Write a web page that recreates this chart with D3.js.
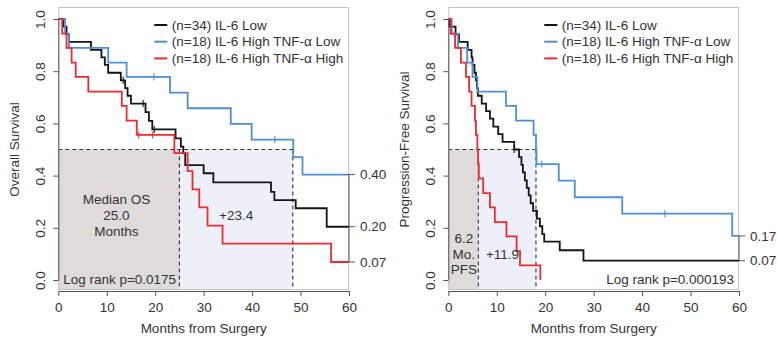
<!DOCTYPE html>
<html>
<head>
<meta charset="utf-8">
<script src="https://cdn.jsdelivr.net/npm/d3@7.9.0/dist/d3.min.js"></script>
<style>
  body { margin: 0; background: #fff; }
  svg { display: block; font-family: "Liberation Sans", Arial, sans-serif; }
</style>
</head>
<body>
<svg id="chart" width="778" height="341"></svg>
<script>
// ---- data ----
const monthTicks = [0, 10, 20, 30, 40, 50, 60];
const survTicks = [0, 0.2, 0.4, 0.6, 0.8, 1.0];
const groupNames = ['(n=34) IL-6 Low', '(n=18) IL-6 High TNF-\u03b1 Low', '(n=18) IL-6 High TNF-\u03b1 High'];
const groupColors = ['#141414', '#4b8fd6', '#ee2a2e'];

// overall survival, [month, survival] at each drop
const osLow = [[0,1],[1.0,0.971],[1.7,0.941],[2.2,0.912],[6.75,0.882],[8.9,0.853],[9.6,0.824],[10.3,0.794],
  [12.9,0.765],[13.8,0.735],[14.3,0.706],[15.0,0.676],[18.0,0.643],[18.7,0.610],[19.4,0.577],[24.2,0.543],
  [25.3,0.511],[25.8,0.485],[26.2,0.440],[30.0,0.409],[32.0,0.374],[43.9,0.338],[44.6,0.306],[49.0,0.275],[55.4,0.204]];
const osHighTnfLow = [[0,1],[1.4,0.944],[2.2,0.889],[10.3,0.833],[14.1,0.778],[23.05,0.718],[26.7,0.658],
  [35.6,0.598],[39.9,0.538],[48.5,0.471],[50.4,0.404]];
const osHighTnfHigh = [[0,1],[0.8,0.944],[1.7,0.889],[2.75,0.833],[3.6,0.778],[6.2,0.722],[13.1,0.667],[14.1,0.611],
  [16.2,0.556],[23.95,0.486],[26.7,0.417],[27.7,0.347],[29.1,0.278],[30.8,0.208],[33.9,0.139],[56.3,0.069]];
const osCensor = [[13.4, 17.5, 19.8], [19.75, 44.7], [16.6, 19.5]];
const osEnd = [60, 60, 60];

// progression-free survival
const pfsLow = [[0,1],[0.3,0.971],[1.5,0.941],[2.2,0.912],[4.0,0.882],[4.8,0.853],[5.0,0.824],[5.4,0.794],
  [5.7,0.765],[5.9,0.735],[6.1,0.706],[6.9,0.676],[7.8,0.647],[8.6,0.618],[9.3,0.588],[10.3,0.559],[11.2,0.529],
  [13.6,0.500],[14.6,0.471],[15.1,0.441],[15.4,0.412],[15.8,0.382],[16.2,0.353],[16.6,0.324],[17.0,0.294],
  [17.5,0.265],[18.3,0.235],[18.9,0.206],[19.4,0.176],[19.8,0.147],[23.0,0.114],[27.9,0.074]];
const pfsHighTnfLow = [[0,1],[0.7,0.944],[2.0,0.889],[3.9,0.833],[5.0,0.778],[6.0,0.722],[11.9,0.667],[14.0,0.611],
  [17.6,0.556],[18.1,0.500],[18.2,0.444],[22.8,0.381],[26.1,0.317],[35.9,0.254],[58.6,0.169]];
const pfsHighTnfHigh = [[0,1],[0.5,0.944],[1.4,0.889],[2.6,0.833],[3.65,0.778],[4.3,0.722],[4.8,0.667],[5.5,0.611],
  [5.7,0.556],[6.0,0.500],[6.15,0.444],[6.3,0.389],[7.2,0.333],[8.6,0.278],[9.6,0.222],[12.0,0.167],[14.1,0.111],
  [14.8,0.056],[19.0,0]];
const pfsCensor = [[13.6], [19.3, 44.7], []];
const pfsEnd = [60, 60, 19.0];

const osMedian = 25.0, osGain = 23.4;
const pfsMedian = 6.2, pfsGain = 11.9;
const osEndLabels = ['0.40', '0.20', '0.07'];
const pfsEndLabels = ['0.17', '0.07'];

// ---- drawing ----
const svg = d3.select('#chart');
const ink = '#333';
const axisInk = '#555';

function stepAt(curve, t) {
  let s = curve[0][1];
  for (const p of curve) if (p[0] <= t) s = p[1];
  return s;
}

function panel(opt) {
  const g = svg.append('g');
  const x = d3.scaleLinear().domain([0, 60]).range([opt.left, opt.left + 290.7]);
  const y = d3.scaleLinear().domain([0, 1]).range([280, 19]);
  const top = 7, bottom = 290;

  // shaded median areas
  g.append('rect')
    .attr('x', x(0)).attr('y', y(0.5))
    .attr('width', x(opt.median) - x(0)).attr('height', bottom - y(0.5))
    .attr('fill', '#dfdbda');
  g.append('rect')
    .attr('x', x(opt.median)).attr('y', y(0.5))
    .attr('width', x(opt.median + opt.gain) - x(opt.median)).attr('height', bottom - y(0.5))
    .attr('fill', '#edf0f9');

  // dashed guides
  const dash = g.append('g').attr('stroke', ink).attr('stroke-width', 1.1).attr('stroke-dasharray', '4,3').attr('fill', 'none');
  dash.append('line').attr('x1', x(0)).attr('x2', x(opt.median + opt.gain)).attr('y1', y(0.5)).attr('y2', y(0.5));
  [opt.median, opt.median + opt.gain].forEach(m => {
    dash.append('line').attr('x1', x(m)).attr('x2', x(m)).attr('y1', y(0.5)).attr('y2', bottom);
  });

  // box
  g.append('rect')
    .attr('x', x(0) + 0.5).attr('y', top + 0.5)
    .attr('width', x(60) - x(0) - 1).attr('height', bottom - top - 1)
    .attr('fill', 'none').attr('stroke', '#c4c4c4').attr('stroke-width', 1);

  // axes
  const xa = g.append('g').attr('transform', `translate(0,${bottom + 1})`)
    .call(d3.axisBottom(x).tickValues(monthTicks).tickSize(5).tickPadding(6).tickSizeOuter(0));
  const ya = g.append('g').attr('transform', `translate(${x(0)},0)`)
    .call(d3.axisLeft(y).tickValues(survTicks).tickSize(5).tickSizeOuter(0).tickFormat(d3.format('.1f')));
  [xa, ya].forEach(a => {
    a.select('.domain').attr('stroke', axisInk);
    a.selectAll('line').attr('stroke', axisInk);
    a.selectAll('text').attr('fill', ink).style('font-size', '13.5px').style('font-family', 'Liberation Sans, Arial, sans-serif');
  });
  ya.selectAll('text')
    .attr('x', null).attr('dy', '0.35em')
    .attr('text-anchor', 'middle')
    .attr('transform', 'translate(-18,0) rotate(-90)');

  g.append('text').attr('x', (x(0) + x(60)) / 2).attr('y', 333)
    .attr('text-anchor', 'middle').attr('fill', ink).style('font-size', '13.5px')
    .text('Months from Surgery');
  g.append('text')
    .attr('transform', `translate(${opt.left - opt.titleGap},${(y(0) + y(1)) / 2}) rotate(-90)`)
    .attr('text-anchor', 'middle').attr('fill', ink).style('font-size', '13.5px')
    .text(opt.title);

  // survival curves
  const line = d3.line().x(d => x(d[0])).y(d => y(d[1])).curve(d3.curveStepAfter);
  opt.curves.forEach((c, i) => {
    const pts = c.slice();
    const last = pts[pts.length - 1];
    if (opt.ends[i] > last[0]) pts.push([opt.ends[i], last[1]]);
    g.append('path').attr('d', line(pts))
      .attr('fill', 'none').attr('stroke', groupColors[i]).attr('stroke-width', 1.8);
    opt.censor[i].forEach(t => {
      const s = stepAt(c, t);
      g.append('line').attr('x1', x(t)).attr('x2', x(t)).attr('y1', y(s) - 3.5).attr('y2', y(s) + 3.5)
        .attr('stroke', groupColors[i]).attr('stroke-width', 1.1);
    });
  });

  // end values on the right
  const endVals = opt.endCurves.map(c => c[c.length - 1][1]);
  g.append('line').attr('x1', x(60)).attr('x2', x(60))
    .attr('y1', y(d3.max(endVals))).attr('y2', y(d3.min(endVals))).attr('stroke', axisInk);
  opt.endLabels.forEach((lab, i) => {
    const s = endVals[i];
    g.append('line').attr('x1', x(60)).attr('x2', x(60) + 6).attr('y1', y(s)).attr('y2', y(s)).attr('stroke', axisInk);
    g.append('text').attr('x', x(60) + 11).attr('y', y(s)).attr('dy', '0.35em')
      .attr('fill', ink).style('font-size', '13.5px').text(lab);
  });

  // legend
  groupNames.forEach((name, i) => {
    const ly = 25 + i * 16.7;
    g.append('line').attr('x1', opt.left + 96).attr('x2', opt.left + 109).attr('y1', ly).attr('y2', ly)
      .attr('stroke', groupColors[i]).attr('stroke-width', 2);
    g.append('text').attr('x', opt.left + 113.5).attr('y', ly).attr('dy', '0.35em')
      .attr('fill', ink).style('font-size', '13.5px').text(name);
  });

  // annotations
  opt.notes.forEach(n => {
    n.lines.forEach((t, k) => {
      g.append('text').attr('x', x(n.m)).attr('y', n.y + k * n.step).attr('dy', '0.35em')
        .attr('text-anchor', n.anchor).attr('fill', ink).style('font-size', '13.5px').text(t);
    });
  });
  return g;
}

panel({
  left: 58.3, title: 'Overall Survival', titleGap: 39,
  curves: [osLow, osHighTnfLow, osHighTnfHigh], censor: osCensor, ends: osEnd,
  median: osMedian, gain: osGain,
  endLabels: osEndLabels, endCurves: [osHighTnfLow, osLow, osHighTnfHigh],
  notes: [
    { m: 12, y: 199.5, step: 16, anchor: 'middle', lines: ['Median OS', osMedian.toFixed(1), 'Months'] },
    { m: osMedian + osGain / 2, y: 215, step: 0, anchor: 'middle', lines: ['+' + osGain.toFixed(1)] },
    { m: 1, y: 279.3, step: 0, anchor: 'start', lines: ['Log rank p=0.0175'] }
  ]
});

panel({
  left: 448.3, title: 'Progression-Free Survival', titleGap: 39,
  curves: [pfsLow, pfsHighTnfLow, pfsHighTnfHigh], censor: pfsCensor, ends: pfsEnd,
  median: pfsMedian, gain: pfsGain,
  endLabels: pfsEndLabels, endCurves: [pfsHighTnfLow, pfsLow],
  notes: [
    { m: 3.2, y: 238.5, step: 15.5, anchor: 'middle', lines: [pfsMedian.toFixed(1), 'Mo.', 'PFS'] },
    { m: 11.2, y: 254.3, step: 0, anchor: 'middle', lines: ['+' + pfsGain.toFixed(1)] },
    { m: 59, y: 279.3, step: 0, anchor: 'end', lines: ['Log rank p=0.000193'] }
  ]
});
</script>
</body>
</html>
